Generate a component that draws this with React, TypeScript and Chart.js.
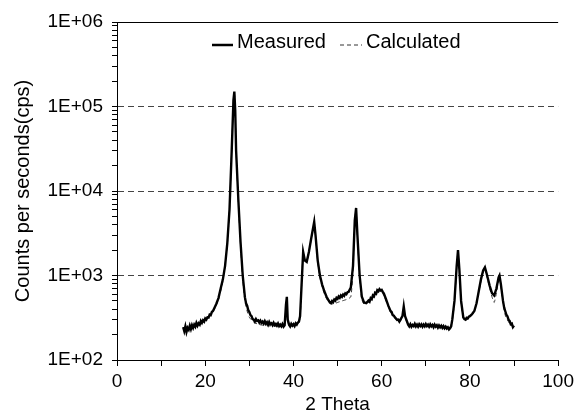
import React, { useEffect, useRef } from "react";
import { Chart, registerables } from "chart.js";

Chart.register(...registerables);

const measuredX = [
  15.0, 15.25, 15.5, 15.75, 16.0, 16.25, 16.5, 16.75, 17.0, 17.25,
  17.5, 17.75, 18.0, 18.25, 18.5, 18.75, 19.0, 19.25, 19.5, 19.75,
  20.0, 20.25, 20.5, 20.75, 21.0, 21.25, 21.5, 21.75, 22.0, 22.5,
  23.0, 23.5, 24.0, 24.5, 25.0, 25.5, 26.0, 26.4, 26.6, 26.8,
  27.0, 27.5, 28.0, 28.5, 29.0, 29.25, 29.5, 29.75, 30.0, 30.25,
  30.5, 30.75, 31.0, 31.25, 31.5, 31.75, 32.0, 32.25, 32.5, 32.75,
  33.0, 33.25, 33.5, 33.75, 34.0, 34.25, 34.5, 34.75, 35.0, 35.25,
  35.5, 35.75, 36.0, 36.25, 36.5, 36.75, 37.0, 37.25, 37.5, 37.75,
  38.0, 38.3, 38.5, 38.7, 39.0, 39.25, 39.5, 39.75, 40.0, 40.25,
  40.5, 40.75, 41.0, 41.25, 41.5, 41.8, 42.2, 42.6, 43.0, 43.5,
  44.0, 44.7, 45.0, 45.5, 46.0, 46.5, 47.0, 47.5, 48.0, 48.25,
  48.5, 48.75, 49.0, 49.25, 49.5, 49.75, 50.0, 50.25, 50.5, 50.75,
  51.0, 51.25, 51.5, 51.75, 52.0, 52.25, 52.5, 53.0, 53.5, 53.9,
  54.2, 54.5, 55.0, 55.5, 56.0, 56.5, 57.0, 57.25, 57.5, 57.75,
  58.0, 58.25, 58.5, 58.75, 59.0, 59.25, 59.5, 59.75, 60.0, 60.25,
  60.5, 61.0, 61.5, 62.0, 62.25, 62.5, 62.75, 63.0, 63.25, 63.5,
  63.75, 64.0, 64.7, 65.0, 65.3, 65.8, 66.0, 66.25, 66.5, 66.75,
  67.0, 67.25, 67.5, 67.75, 68.0, 68.25, 68.5, 68.75, 69.0, 69.25,
  69.5, 69.75, 70.0, 70.25, 70.5, 70.75, 71.0, 71.25, 71.5, 71.75,
  72.0, 72.25, 72.5, 72.75, 73.0, 73.25, 73.5, 73.75, 74.0, 74.25,
  74.5, 74.75, 75.0, 75.25, 75.5, 75.75, 76.0, 76.5, 77.0, 77.3,
  77.6, 78.0, 78.5, 78.75, 79.0, 79.25, 79.5, 79.75, 80.0, 80.5,
  81.0, 81.5, 82.0, 82.5, 83.0, 83.4, 83.8, 84.5, 85.0, 85.5,
  86.0, 86.5, 86.7, 87.0, 87.5, 87.75, 88.0, 88.25, 88.5, 88.75,
  89.0, 89.25, 89.5, 89.75, 90.0,
];
const measuredY = [
  245, 220, 250, 215, 240, 228, 255, 232, 258, 240,
  262, 248, 275, 255, 272, 262, 290, 275, 295, 285,
  310, 300, 320, 318, 345, 340, 370, 380, 405, 460,
  540, 700, 900, 1300, 2400, 6000, 30000, 120000, 150000, 90000,
  30000, 8000, 2500, 1000, 550, 470, 440, 390, 370, 340,
  330, 305, 300, 285, 305, 290, 295, 278, 292, 275,
  285, 270, 288, 268, 280, 262, 282, 265, 272, 258,
  276, 260, 268, 255, 270, 252, 262, 250, 266, 248,
  258, 450, 560, 300, 262, 250, 268, 255, 265, 252,
  272, 262, 278, 285, 330, 700, 1900, 1500, 1450, 1900,
  2700, 4300, 3000, 1500, 1000, 780, 650, 560, 505, 480,
  470, 500, 485, 520, 505, 545, 530, 565, 545, 580,
  560, 595, 575, 615, 600, 635, 640, 720, 1300, 4500,
  6300, 3000, 1000, 560, 480, 470, 505, 490, 540, 525,
  580, 565, 625, 610, 670, 650, 690, 665, 675, 640,
  610, 520, 440, 380, 370, 340, 335, 320, 310, 298,
  300, 285, 330, 430, 330, 280, 262, 250, 265, 248,
  260, 252, 268, 250, 262, 248, 265, 252, 264, 248,
  262, 250, 266, 252, 262, 248, 264, 250, 260, 245,
  262, 248, 258, 242, 256, 244, 254, 240, 252, 238,
  248, 236, 244, 230, 238, 250, 300, 500, 1300, 2000,
  1200, 500, 320, 305, 300, 315, 310, 325, 330, 350,
  380, 470, 650, 900, 1150, 1250, 1050, 750, 620, 580,
  700, 950, 1000, 800, 500, 420, 380, 345, 330, 300,
  290, 265, 270, 245, 255,
];

const calculatedX = [
  15, 16, 17, 18, 19, 20, 21, 22, 23, 24, 25, 25.5, 26, 26.4, 26.6, 26.8, 27, 27.5, 28, 28.5,
  29, 29.5, 30, 31, 32, 33, 34, 35, 36, 37, 38, 38.3, 38.5, 38.7, 39, 40, 41, 41.5, 41.8, 42.2,
  42.6, 43, 43.5, 44, 44.7, 45, 45.5, 46, 46.5, 47, 47.5, 48, 49, 50, 51, 52, 53, 53.5, 53.9, 54.2,
  54.5, 55, 55.5, 56, 57, 58, 59, 59.5, 60, 61, 62, 63, 64, 64.7, 65, 65.3, 66, 67, 70, 73,
  75, 75.5, 76, 76.5, 77, 77.3, 77.6, 78, 78.5, 79, 80, 81, 82, 83, 83.4, 83.8, 84.5, 85, 85.5, 86,
  86.5, 86.7, 87, 87.5, 88, 89, 90,
];
const calculatedY = [
  240, 245, 250, 262, 278, 298, 330, 390, 520, 860, 2300, 6000, 30000, 125000, 150000, 90000, 30000, 7500, 2300, 900,
  500, 380, 320, 280, 265, 258, 255, 252, 250, 250, 252, 440, 540, 300, 255, 255, 265, 310, 680, 1850,
  1500, 1450, 1850, 2650, 4200, 2950, 1450, 950, 740, 610, 530, 480, 460, 480, 500, 520, 560, 1200, 4400, 6100,
  2900, 950, 520, 460, 480, 550, 640, 660, 650, 500, 370, 310, 280, 320, 420, 320, 262, 255, 255, 250,
  240, 245, 290, 480, 1250, 1950, 1150, 480, 310, 295, 320, 370, 630, 1120, 1200, 1000, 700, 560, 480, 620,
  900, 950, 760, 470, 340, 270, 240,
];

const seriesLabels = ["Measured", "Calculated"];
const yMajorValues = [100, 1000, 10000, 100000, 1000000];
const yTickLabels = ["1E+02", "1E+03", "1E+04", "1E+05", "1E+06"];
const xMajorValues = [0, 20, 40, 60, 80, 100];
const xTickLabels = ["0", "20", "40", "60", "80", "100"];

const FONT = "'Liberation Sans', Arial, sans-serif";

const legendPlugin = {
  id: "insideLegend",
  afterDraw(chart: any) {
    const ctx = chart.ctx;
    const y = 42;
    ctx.save();
    ctx.font = `20px ${FONT}`;
    ctx.fillStyle = "#000";
    ctx.textBaseline = "middle";
    ctx.textAlign = "left";
    ctx.strokeStyle = "#000";
    ctx.lineWidth = 2.5;
    ctx.setLineDash([]);
    ctx.beginPath();
    ctx.moveTo(212, y + 3);
    ctx.lineTo(233, y + 3);
    ctx.stroke();
    ctx.fillText(chart.data.datasets[0].label, 237, y);
    ctx.lineWidth = 1;
    ctx.strokeStyle = "#333";
    ctx.setLineDash([4, 3]);
    ctx.beginPath();
    ctx.moveTo(340, y + 3);
    ctx.lineTo(362, y + 3);
    ctx.stroke();
    ctx.setLineDash([]);
    ctx.fillText(chart.data.datasets[1].label, 366, y);
    ctx.restore();
  },
};

export default function App() {
  const ref = useRef<HTMLCanvasElement | null>(null);
  useEffect(() => {
    document.body.style.margin = "0";
    const canvas = ref.current;
    if (!canvas) return;
    const yTicks: number[] = [];
    for (let d = 2; d <= 5; d++) {
      for (let s = 1; s <= 9; s++) yTicks.push(s * Math.pow(10, d));
    }
    yTicks.push(1000000);

    const chart = new Chart(canvas, {
      type: "line",
      data: {
        datasets: [
          {
            label: seriesLabels[0],
            data: measuredX.map((x, i) => ({ x, y: measuredY[i] })),
            borderColor: "#000",
            borderWidth: 2.4,
            pointRadius: 0,
            tension: 0,
            fill: false,
          },
          {
            label: seriesLabels[1],
            data: calculatedX.map((x, i) => ({ x, y: calculatedY[i] })),
            borderColor: "#333",
            borderWidth: 1,
            borderDash: [4, 3],
            pointRadius: 0,
            tension: 0.2,
            fill: false,
          },
        ],
      },
      options: {
        responsive: false,
        animation: false,
        layout: { padding: { left: 0, right: 16, top: 22, bottom: 0 } },
        plugins: {
          legend: { display: false },
          tooltip: { enabled: false },
        },
        scales: {
          x: {
            type: "linear",
            min: 0,
            max: 100,
            afterBuildTicks: (scale: any) => {
              const t: any[] = [];
              for (let v = 0; v <= 100; v += 10) t.push({ value: v });
              scale.ticks = t;
            },
            afterFit: (scale: any) => {
              scale.height = 56;
            },
            ticks: {
              autoSkip: false,
              maxRotation: 0,
              padding: 4,
              color: "#000",
              font: { family: FONT, size: 19 },
              callback: (v: any) => {
                const i = xMajorValues.indexOf(Number(v));
                return i >= 0 ? xTickLabels[i] : "";
              },
            },
            grid: {
              drawOnChartArea: false,
              tickLength: 6,
              tickColor: "#000",
            },
            border: { color: "#000", width: 1 },
            title: {
              display: true,
              text: "2 Theta",
              color: "#000",
              font: { family: FONT, size: 19 },
              padding: { top: 0, bottom: 0 },
            },
          },
          y: {
            type: "logarithmic",
            min: 100,
            max: 1000000,
            afterBuildTicks: (scale: any) => {
              scale.ticks = yTicks.map((v) => ({ value: v }));
            },
            afterFit: (scale: any) => {
              scale.width = 117;
            },
            ticks: {
              autoSkip: false,
              padding: 9,
              color: "#000",
              font: { family: FONT, size: 19 },
              callback: (v: any) => {
                const i = yMajorValues.indexOf(Number(v));
                return i >= 0 ? yTickLabels[i] : "";
              },
            },
            grid: {
              tickLength: 5,
              tickColor: "#000",
              tickBorderDash: [],
              lineWidth: 1,
              color: (c: any) => {
                const v = c.tick ? c.tick.value : null;
                if (v === 1000000) return "#000";
                if (v === 1000 || v === 10000 || v === 100000) return "#444";
                return "rgba(0,0,0,0)";
              },
            },
            border: {
              color: "#000",
              width: 1,
              dash: (c: any) => (c.tick && c.tick.value === 1000000 ? [] : [6, 4]),
            },
            title: {
              display: true,
              text: "Counts per seconds(cps)",
              color: "#000",
              font: { family: FONT, size: 20 },
              padding: { top: 11, bottom: 0 },
            },
          },
        },
      },
      plugins: [legendPlugin],
    } as any);
    return () => chart.destroy();
  }, []);
  return (
    <div style={{ width: 578, height: 416 }}>
      <canvas ref={ref} width={578} height={416} style={{ width: 578, height: 416, display: "block" }} />
    </div>
  );
}
